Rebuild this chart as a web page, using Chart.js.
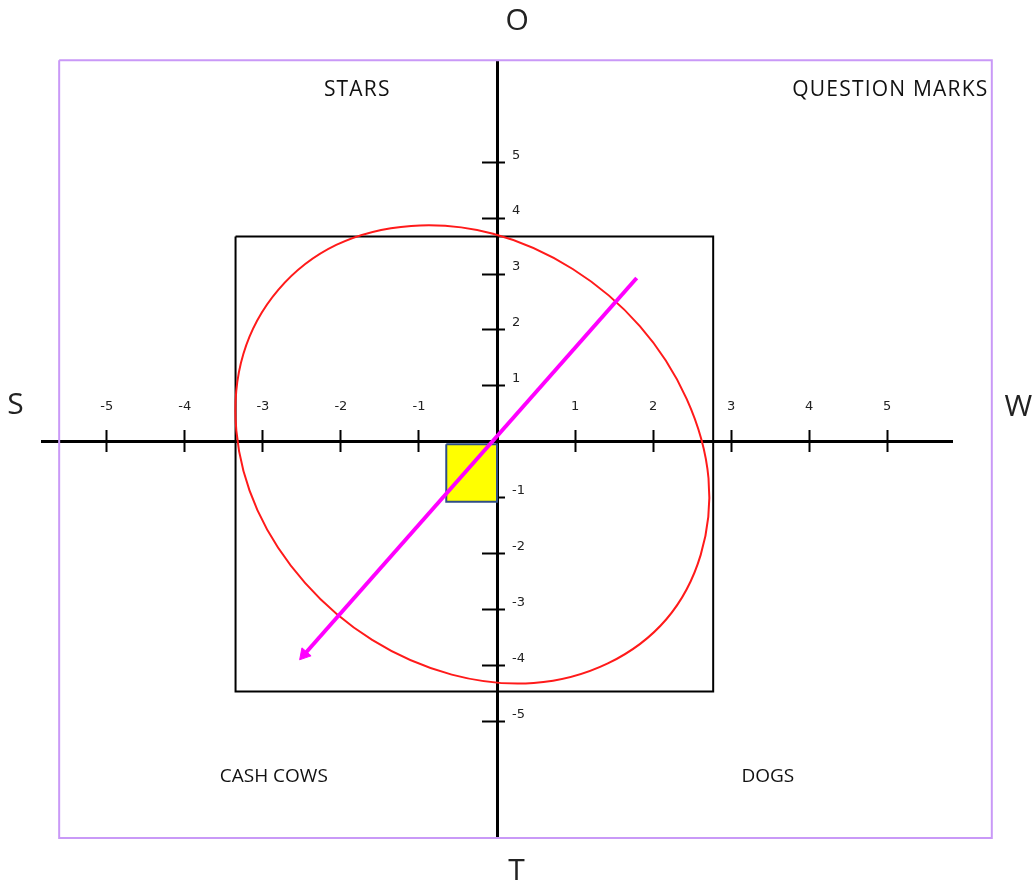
<!DOCTYPE html>
<html>
<head>
<meta charset="utf-8">
<script src="https://cdn.jsdelivr.net/npm/chart.js@4.4.1/dist/chart.umd.min.js"></script>
<style>
  html, body { margin: 0; padding: 0; background: #fff; }
  canvas { display: block; }
</style>
</head>
<body>
<canvas id="swotChart" width="1036" height="884"></canvas>
<script>
// axis ticks
const xTicks = [-5, -4, -3, -2, -1, 1, 2, 3, 4, 5];
const xTickLabels = ['-5', '-4', '-3', '-2', '-1', '1', '2', '3', '4', '5'];
const yTicks = [-5, -4, -3, -2, -1, 1, 2, 3, 4, 5];
const yTickLabels = ['-5', '-4', '-3', '-2', '-1', '1', '2', '3', '4', '5'];

// shapes, in axis units
const frameX = [-5.61, 6.34, 6.34, -5.61, -5.61];
const frameY = [6.82, 6.82, -7.08, -7.08, 6.82];
const boxX = [-3.35, 2.77, 2.77, -3.35, -3.35];
const boxY = [3.67, 3.67, -4.46, -4.46, 3.67];
const squareX = [-0.65, 0, 0, -0.65, -0.65];
const squareY = [-0.04, -0.04, -1.07, -1.07, -0.04];
// points read round the red ellipse (closed loop, first = last)
const ellipseX = [2.17, 1.42, 0.47, -0.58, -1.60, -2.46, -3.07, -3.34, -3.25, -2.80,
                  -2.06, -1.10, -0.05, 0.97, 1.83, 2.43, 2.71, 2.61, 2.17];
const ellipseY = [-3.17, -3.96, -4.31, -4.16, -3.54, -2.52, -1.22, 0.20, 1.57, 2.72,
                  3.52, 3.86, 3.72, 3.09, 2.07, 0.77, -0.65, -2.02, -3.17];
const arrowX = [1.79, -2.47];
const arrowY = [2.93, -3.80];

// texts
const sideLabels = ['O', 'T', 'S', 'W'];
const sideX = [0.26, 0.25, -6.17, 6.68];
const sideY = [7.51, -7.67, 0.66, 0.61];
const quadLabels = ['STARS', 'QUESTION MARKS', 'CASH COWS', 'DOGS'];
const quadX = [-1.79, 5.04, -2.86, 3.47];
const quadY = [6.29, 6.29, -5.98, -5.98];

function toPoints(xs, ys) {
    return xs.map((x, i) => ({ x: x, y: ys[i] }));
}

// wrap the closed loop with one extra point on each side so the curve stays smooth at the join
function loopPoints(xs, ys) {
    const pts = toPoints(xs, ys);
    const n = pts.length;
    return [pts[n - 2]].concat(pts, [pts[1]]);
}
const ellipsePts = loopPoints(ellipseX, ellipseY);

const tickFont = { family: 'DejaVu Sans', size: 13 };

const textPlugin = {
    id: 'texts',
    afterDraw(chart) {
        const ctx = chart.ctx;
        const xs = chart.scales.x;
        const ys = chart.scales.y;
        ctx.save();
        ctx.fillStyle = '#222';
        ctx.textBaseline = 'middle';

        // y tick labels sit right of the axis
        ctx.font = '13px "DejaVu Sans"';
        ctx.textAlign = 'left';
        const x0 = xs.getPixelForValue(0);
        yTicks.forEach((v, i) => {
            ctx.fillText(yTickLabels[i], x0 + 15, ys.getPixelForValue(v) - 7);
        });

        ctx.textAlign = 'center';
        ctx.font = '30px "Open Sans"';
        sideLabels.forEach((t, i) => {
            ctx.fillText(t, xs.getPixelForValue(sideX[i]), ys.getPixelForValue(sideY[i]));
        });

        ctx.fillStyle = '#111';
        quadLabels.forEach((t, i) => {
            if (i < 2) {
                ctx.font = '21px "Open Sans"';
                ctx.letterSpacing = '1.2px';
            } else {
                ctx.font = '19px "Open Sans"';
                ctx.letterSpacing = '0px';
            }
            ctx.fillText(t, xs.getPixelForValue(quadX[i]), ys.getPixelForValue(quadY[i]));
        });
        ctx.restore();
    }
};

const ctx = document.getElementById('swotChart').getContext('2d');
const swotChart = new Chart(ctx, {
    type: 'scatter',
    data: {
        datasets: [{
            label: 'arrow',
            data: toPoints(arrowX, arrowY),
            showLine: true,
            borderColor: '#ff00ff',
            borderWidth: 4,
            pointRadius: [0, 7],
            pointStyle: 'triangle',
            pointRotation: [0, 221],
            pointBackgroundColor: '#ff00ff',
            pointBorderColor: '#ff00ff',
            pointBorderWidth: 1
        }, {
            label: 'ellipse',
            data: ellipsePts,
            showLine: true,
            borderColor: '#ff1a1a',
            borderWidth: 2,
            tension: 0.34,
            pointRadius: 0,
            segment: {
                borderColor: (c) => (c.p0DataIndex === 0 || c.p1DataIndex === ellipsePts.length - 1)
                    ? 'rgba(0,0,0,0)' : undefined
            }
        }, {
            label: 'square',
            data: toPoints(squareX, squareY),
            showLine: true,
            borderColor: '#2f4d86',
            borderWidth: 2,
            backgroundColor: '#ffff00',
            fill: 'shape',
            pointRadius: 0
        }, {
            label: 'box',
            data: toPoints(boxX, boxY),
            showLine: true,
            borderColor: '#000',
            borderWidth: 2,
            pointRadius: 0
        }, {
            label: 'frame',
            data: toPoints(frameX, frameY),
            showLine: true,
            borderColor: '#c999f7',
            borderWidth: 2,
            pointRadius: 0
        }]
    },
    options: {
        responsive: false,
        animation: false,
        events: [],
        layout: { padding: { left: 42, right: 84, top: 62, bottom: 46 } },
        plugins: {
            legend: { display: false },
            tooltip: { enabled: false }
        },
        datasets: { scatter: { clip: false } },
        scales: {
            x: {
                type: 'linear',
                min: -5.83,
                max: 5.83,
                position: { y: 0 },
                border: { color: '#000', width: 3 },
                grid: { drawOnChartArea: false, tickLength: 9, tickWidth: 2, tickColor: '#000' },
                ticks: {
                    padding: -52,
                    maxRotation: 0,
                    autoSkip: false,
                    color: '#222',
                    font: tickFont,
                    callback: (v) => xTickLabels[xTicks.indexOf(v)]
                },
                afterBuildTicks: (s) => { s.ticks = xTicks.map(v => ({ value: v })); }
            },
            xUp: {
                type: 'linear',
                axis: 'x',
                min: -5.83,
                max: 5.83,
                position: { y: 0 },
                border: { display: false },
                grid: { drawOnChartArea: false, tickLength: -12, tickWidth: 2, tickColor: '#000' },
                ticks: { display: false },
                afterBuildTicks: (s) => { s.ticks = xTicks.map(v => ({ value: v })); }
            },
            y: {
                type: 'linear',
                min: -7.08,
                max: 6.79,
                position: { x: 0 },
                border: { color: '#000', width: 3 },
                grid: { drawOnChartArea: false, tickLength: 14, tickWidth: 2, tickColor: '#000' },
                ticks: { display: false },
                afterBuildTicks: (s) => { s.ticks = yTicks.map(v => ({ value: v })); }
            },
            yRight: {
                type: 'linear',
                axis: 'y',
                min: -7.08,
                max: 6.79,
                position: { x: 0 },
                border: { display: false },
                grid: { drawOnChartArea: false, tickLength: -8, tickWidth: 2, tickColor: '#000' },
                ticks: { display: false },
                afterBuildTicks: (s) => { s.ticks = yTicks.map(v => ({ value: v })); }
            }
        }
    },
    plugins: [textPlugin]
});
</script>
</body>
</html>
